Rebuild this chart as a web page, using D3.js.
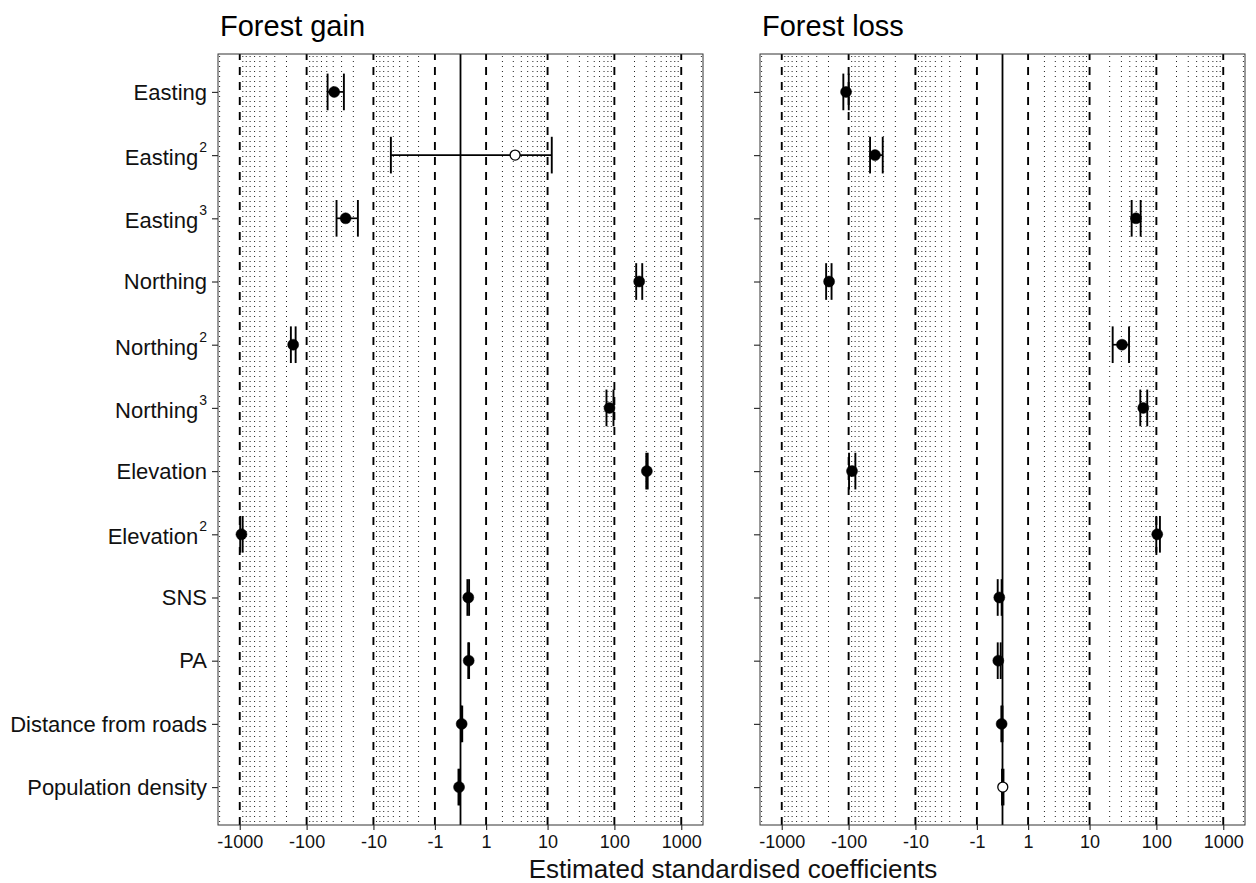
<!DOCTYPE html>
<html>
<head>
<meta charset="utf-8">
<script src="https://cdn.jsdelivr.net/npm/d3@7"></script>
<style>
  html, body { margin: 0; padding: 0; background: #fff; }
  svg { display: block; font-family: "Liberation Sans", Arial, Helvetica, sans-serif; }
</style>
</head>
<body>
<svg id="chart" width="1256" height="883"></svg>
<script>
// ---------- data ----------
const labelBase = ["Easting","Easting","Easting","Northing","Northing","Northing","Elevation","Elevation","SNS","PA","Distance from roads","Population density"];
const labelSup  = ["","2","3","","2","3","","2","","","",""];
const categories = labelBase.map((b, i) => b + labelSup[i]);

const gainEst = [-38.7, 3.2, -26.1, 235, -159, 84.5, 306, -943, 0.272, 0.286, 0.04, -0.05];
const gainLo  = [-48.6, -5.45, -35.7, 212, -172, 76.2, 300, -985, 0.24, 0.27, 0.02, -0.07];
const gainHi  = [-27.7, 11.56, -17.1, 261, -146, 97, 315, -905, 0.30, 0.30, 0.06, -0.03];
const gainSig = [1, 0, 1, 1, 1, 1, 1, 1, 1, 1, 1, 1];

const lossEst = [-109.3, -40.3, 49.5, -196, 30.6, 63.7, -89, 103, -0.11, -0.145, -0.03, 0.01];
const lossLo  = [-120, -47.8, 42.7, -217, 22.2, 57.5, -98.6, 99.7, -0.166, -0.165, -0.04, -0.017];
const lossHi  = [-99.6, -30.9, 58.2, -180, 39, 73, -79.3, 113, -0.03, -0.062, 0.0, 0.034];
const lossSig = [1, 1, 1, 1, 1, 1, 1, 1, 1, 1, 1, 0];

const panelTitles = ["Forest gain", "Forest loss"];
const tickValues = [-1000, -100, -10, -1, 1, 10, 100, 1000];
const tickLabels = ["-1000", "-100", "-10", "-1", "1", "10", "100", "1000"];
const xTitle = "Estimated standardised coefficients";

// ---------- layout ----------
const svg = d3.select("#chart");
const yTop = 54, yBottom = 825;
const panels = [
  { x0: 218, x1: 703, title: panelTitles[0], est: gainEst, lo: gainLo, hi: gainHi, sig: gainSig },
  { x0: 760, x1: 1245, title: panelTitles[1], est: lossEst, lo: lossLo, hi: lossHi, sig: lossSig }
];
const tDomain = 8.35; // asinh-space half range

const y = d3.scalePoint().domain(categories).range([yTop, yBottom]).padding(0.6);
const capH = y.step() * 0.29;

// minor grid values
const minorVals = [];
[1, 10, 100, 1000].forEach(d => {
  for (let m = 2; m <= 9; m++) {
    const v = m * d;
    if (Math.asinh(v) < tDomain) { minorVals.push(v); minorVals.push(-v); }
  }
});

panels.forEach((p, pi) => {
  const xt = d3.scaleLinear().domain([-tDomain, tDomain]).range([p.x0, p.x1]);
  const x = v => xt(Math.asinh(v));
  const g = svg.append("g");

  // minor dotted lines
  g.selectAll(".minor").data(minorVals).enter().append("line")
    .attr("x1", d => x(d)).attr("x2", d => x(d))
    .attr("y1", yTop + 2).attr("y2", yBottom)
    .attr("stroke", "#222").attr("stroke-width", 1)
    .attr("stroke-dasharray", "1,4");

  // dashed major lines
  g.selectAll(".major").data(tickValues).enter().append("line")
    .attr("x1", d => x(d)).attr("x2", d => x(d))
    .attr("y1", yBottom).attr("y2", yTop)
    .attr("stroke", "#000").attr("stroke-width", 1.9)
    .attr("stroke-dasharray", "8,7");

  // zero line
  g.append("line")
    .attr("x1", x(0)).attr("x2", x(0))
    .attr("y1", yTop).attr("y2", yBottom)
    .attr("stroke", "#000").attr("stroke-width", 1.8);

  // panel border
  g.append("rect")
    .attr("x", p.x0).attr("y", yTop)
    .attr("width", p.x1 - p.x0).attr("height", yBottom - yTop)
    .attr("fill", "none").attr("stroke", "#333").attr("stroke-width", 1);

  // x axis
  const xAxis = d3.axisBottom(xt)
    .tickValues(tickValues.map(Math.asinh))
    .tickFormat((d, i) => tickLabels[i])
    .tickSize(5).tickPadding(5);
  const ax = g.append("g").attr("transform", `translate(0,${yBottom})`).call(xAxis);
  ax.select(".domain").remove();
  ax.selectAll(".tick line").attr("stroke", "#333").attr("stroke-width", 1.2);
  ax.selectAll(".tick text").attr("font-size", 18).attr("fill", "#111")
    .attr("font-family", "Liberation Sans, Arial, sans-serif");

  // y axis ticks
  const yAxis = d3.axisLeft(y).tickFormat("").tickSize(6);
  const ay = g.append("g").attr("transform", `translate(${p.x0},0)`).call(yAxis);
  ay.select(".domain").remove();
  ay.selectAll(".tick line").attr("stroke", "#333").attr("stroke-width", 1.2);

  // y labels (only first panel)
  if (pi === 0) {
    categories.forEach((c, i) => {
      const hasSup = labelSup[i] !== "";
      const t = svg.append("text")
        .attr("x", 207)
        .attr("y", y(c) + 7.8 + (hasSup ? 2 : 0))
        .attr("text-anchor", "end")
        .attr("font-size", 22)
        .attr("fill", "#111");
      t.append("tspan").text(labelBase[i]);
      if (hasSup) {
        t.append("tspan").attr("font-size", 14).attr("dy", -13).attr("dx", 1).text(labelSup[i]);
      }
    });
  }

  // title
  svg.append("text")
    .attr("x", p.x0 + 2).attr("y", 36)
    .attr("font-size", 29).attr("fill", "#000")
    .text(p.title);

  // error bars
  const rows = categories.map((c, i) => ({ c, est: p.est[i], lo: p.lo[i], hi: p.hi[i], sig: p.sig[i] }));
  const eb = g.selectAll(".eb").data(rows).enter().append("g");
  eb.append("line")
    .attr("x1", d => x(d.lo)).attr("x2", d => x(d.hi))
    .attr("y1", d => y(d.c)).attr("y2", d => y(d.c))
    .attr("stroke", "#000").attr("stroke-width", 1.7);
  eb.append("line")
    .attr("x1", d => x(d.lo)).attr("x2", d => x(d.lo))
    .attr("y1", d => y(d.c) - capH).attr("y2", d => y(d.c) + capH)
    .attr("stroke", "#000").attr("stroke-width", 1.9);
  eb.append("line")
    .attr("x1", d => x(d.hi)).attr("x2", d => x(d.hi))
    .attr("y1", d => y(d.c) - capH).attr("y2", d => y(d.c) + capH)
    .attr("stroke", "#000").attr("stroke-width", 1.9);

  // points
  g.selectAll(".pt").data(rows).enter().append("circle")
    .attr("cx", d => x(d.est)).attr("cy", d => y(d.c))
    .attr("r", d => d.sig ? 5.5 : 5)
    .attr("fill", d => d.sig ? "#000" : "#fff")
    .attr("stroke", "#000").attr("stroke-width", d => d.sig ? 0.5 : 1.3);
});

// x title
svg.append("text")
  .attr("x", 733).attr("y", 878)
  .attr("text-anchor", "middle")
  .attr("font-size", 26).attr("fill", "#111")
  .text(xTitle);
</script>
</body>
</html>
